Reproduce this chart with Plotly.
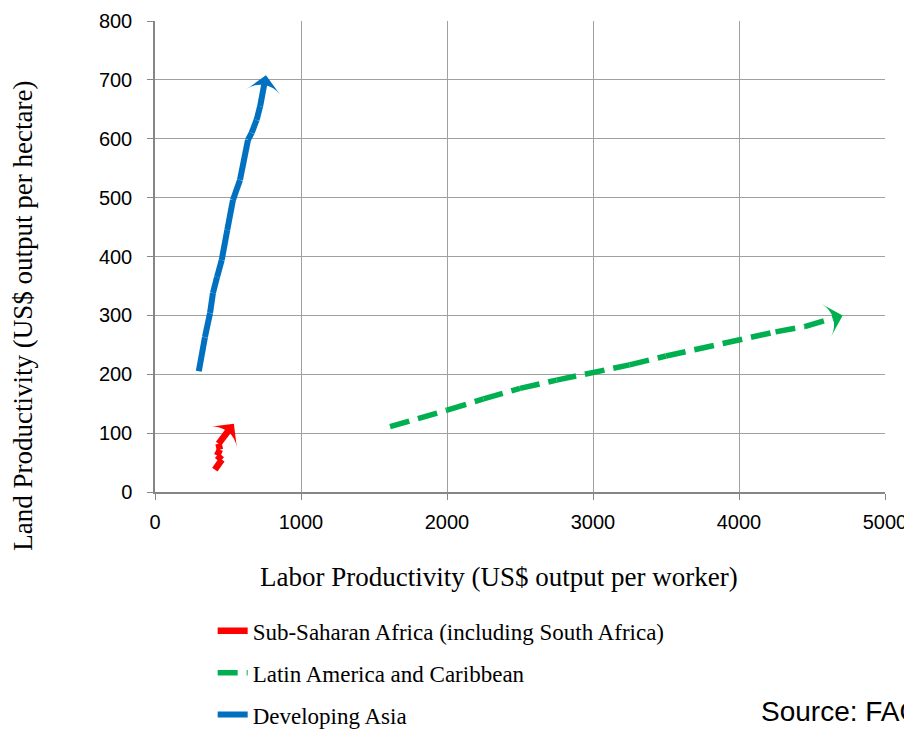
import plotly.graph_objects as go

# Data (labor productivity x, land productivity y)
ssa_x = [410, 440, 458, 425, 445, 435, 465, 490, 515, 540]
ssa_y = [38, 48, 55, 62, 72, 82, 92, 100, 108, 116]

lac_x = [1610, 1800, 2000, 2250, 2500, 2750, 3000, 3250, 3500, 3750, 4000, 4250, 4450, 4710]
lac_y = [111, 124, 139, 158, 176, 190, 202, 216, 231, 245, 259, 272, 281, 300]

asia_x = [300, 320, 342, 377, 397, 425, 457, 495, 534, 582, 610, 637, 662, 696, 720, 740, 760]
asia_y = [205, 235, 263, 304, 338, 365, 394, 445, 496, 530, 565, 598, 610, 632, 655, 677, 708]

names = ["Sub-Saharan Africa (including South Africa)",
         "Latin America and Caribbean",
         "Developing Asia"]
colors = ["#ff0000", "#00b050", "#0070c0"]

serif = "Liberation Serif"
sans = "Liberation Sans"

fig = go.Figure()

series = [(ssa_x, ssa_y, "solid", 6.5), (lac_x, lac_y, "20px,9px", 5.5), (asia_x, asia_y, "solid", 6)]
for i, ((xs, ys, dash, w), name, col) in enumerate(zip(series, names, colors)):
    n = len(xs)
    fig.add_trace(go.Scatter(
        x=xs, y=ys, name=name, mode="lines+markers",
        line=dict(color=col, width=w, dash=dash),
        marker=dict(symbol="arrow-wide", angleref="previous",
                    size=[0] * (n - 1) + [24], color=col, opacity=1,
                    line=dict(width=0)),
        legendgroup=str(i), showlegend=True,
    ))

axis_common = dict(showgrid=True, gridcolor="#a0a0a0", gridwidth=1,
                   showline=True, linecolor="#868686", linewidth=1.5,
                   ticks="outside", tickcolor="#868686", ticklen=6, zeroline=False,
                   tickfont=dict(family=sans, size=20, color="black"))

fig.update_layout(
    width=904, height=721,
    margin=dict(l=147, r=27, t=13, b=237, autoexpand=False),
    paper_bgcolor="white", plot_bgcolor="white",
    showlegend=True,
    legend=dict(x=0.079, y=-0.249, xanchor="left", yanchor="top",
                font=dict(family=serif, size=23, color="black"),
                traceorder="grouped", tracegroupgap=9,
                itemwidth=30, bgcolor="rgba(0,0,0,0)"),
    xaxis=dict(range=[0, 5000], dtick=1000, ticklabelstandoff=5, **axis_common),
    yaxis=dict(range=[0, 800], dtick=100, ticklabelstandoff=11, **axis_common),
    annotations=[
        dict(text="Labor Productivity (US$ output per worker)", xref="paper", yref="paper",
             x=0.471, y=-0.180, xanchor="center", yanchor="middle", showarrow=False,
             font=dict(family=serif, size=27, color="black")),
        dict(text="Land Productivity (US$ output per hectare)", xref="paper", yref="paper",
             x=-0.181, y=0.374, xanchor="center", yanchor="middle", showarrow=False,
             textangle=-90, font=dict(family=serif, size=27, color="black")),
        dict(text="Source: FAO", xref="paper", yref="paper",
             x=0.827, y=-0.465, xanchor="left", yanchor="middle", showarrow=False,
             font=dict(family=sans, size=28, color="black")),
    ],
)

fig.write_html("out.html")
